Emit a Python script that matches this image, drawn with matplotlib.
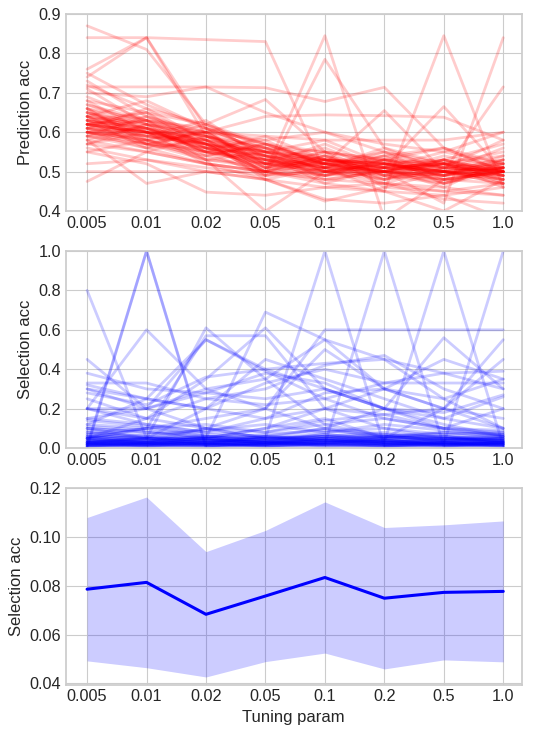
import numpy as np
import matplotlib
matplotlib.use('Agg')
import matplotlib.pyplot as plt

# tuning parameter categories
tuning_labels = ['0.005', '0.01', '0.02', '0.05', '0.1', '0.2', '0.5', '1.0']

# prediction accuracy, one row per run
pred_acc = [
    [0.87, 0.81, 0.62, 0.56, 0.53, 0.52, 0.50, 0.49],
    [0.84, 0.84, 0.835, 0.83, 0.50, 0.52, 0.49, 0.51],
    [0.74, 0.84, 0.59, 0.55, 0.52, 0.50, 0.47, 0.50],
    [0.76, 0.84, 0.61, 0.57, 0.53, 0.51, 0.52, 0.48],
    [0.62, 0.60, 0.57, 0.50, 0.845, 0.38, 0.48, 0.50],
    [0.63, 0.61, 0.55, 0.49, 0.785, 0.56, 0.52, 0.49],
    [0.60, 0.58, 0.55, 0.52, 0.51, 0.45, 0.845, 0.46],
    [0.61, 0.59, 0.56, 0.54, 0.52, 0.50, 0.42, 0.84],
    [0.64, 0.60, 0.58, 0.55, 0.53, 0.52, 0.50, 0.715],
    [0.715, 0.715, 0.715, 0.713, 0.678, 0.714, 0.56, 0.52],
    [0.70, 0.69, 0.715, 0.65, 0.60, 0.55, 0.52, 0.50],
    [0.66, 0.63, 0.60, 0.64, 0.644, 0.642, 0.638, 0.58],
    [0.68, 0.65, 0.62, 0.683, 0.55, 0.53, 0.50, 0.47],
    [0.65, 0.62, 0.59, 0.56, 0.52, 0.655, 0.50, 0.48],
    [0.62, 0.60, 0.57, 0.55, 0.53, 0.51, 0.665, 0.50],
    [0.475, 0.55, 0.52, 0.50, 0.48, 0.47, 0.45, 0.44],
    [0.58, 0.47, 0.50, 0.48, 0.46, 0.45, 0.44, 0.46],
    [0.55, 0.52, 0.448, 0.44, 0.46, 0.47, 0.43, 0.42],
    [0.60, 0.57, 0.53, 0.40, 0.50, 0.49, 0.48, 0.47],
    [0.57, 0.55, 0.52, 0.48, 0.425, 0.46, 0.45, 0.47],
    [0.59, 0.56, 0.52, 0.50, 0.47, 0.45, 0.40, 0.48],
    [0.50, 0.50, 0.50, 0.50, 0.49, 0.50, 0.49, 0.50],
    [0.52, 0.53, 0.50, 0.48, 0.43, 0.42, 0.44, 0.38],
    [0.62, 0.57, 0.60, 0.51, 0.55, 0.49, 0.53, 0.47],
    [0.66, 0.61, 0.55, 0.56, 0.50, 0.54, 0.47, 0.52],
    [0.59, 0.64, 0.57, 0.50, 0.54, 0.48, 0.52, 0.55],
    [0.64, 0.58, 0.62, 0.54, 0.49, 0.53, 0.56, 0.50],
    [0.61, 0.66, 0.58, 0.52, 0.57, 0.51, 0.46, 0.53],
    [0.68, 0.60, 0.56, 0.58, 0.51, 0.56, 0.50, 0.48],
    [0.57, 0.62, 0.53, 0.55, 0.48, 0.50, 0.54, 0.51],
    [0.63, 0.56, 0.61, 0.49, 0.53, 0.47, 0.51, 0.58],
    [0.60, 0.63, 0.54, 0.57, 0.52, 0.55, 0.48, 0.50],
    [0.65, 0.59, 0.63, 0.53, 0.56, 0.50, 0.53, 0.49],
    [0.71, 0.62, 0.57, 0.50, 0.53, 0.52, 0.49, 0.54],
    [0.58, 0.55, 0.59, 0.54, 0.47, 0.51, 0.55, 0.52],
    [0.62, 0.65, 0.56, 0.52, 0.55, 0.46, 0.50, 0.56],
    [0.66, 0.57, 0.60, 0.56, 0.50, 0.53, 0.47, 0.51],
    [0.61, 0.60, 0.52, 0.50, 0.54, 0.49, 0.52, 0.46],
    [0.73, 0.64, 0.59, 0.53, 0.51, 0.55, 0.51, 0.50],
    [0.55, 0.58, 0.54, 0.57, 0.52, 0.48, 0.53, 0.57],
    [0.64, 0.68, 0.61, 0.55, 0.58, 0.52, 0.49, 0.53],
    [0.60, 0.56, 0.58, 0.48, 0.51, 0.54, 0.56, 0.50],
    [0.63, 0.61, 0.55, 0.59, 0.53, 0.50, 0.52, 0.48],
    [0.62, 0.59, 0.57, 0.53, 0.50, 0.52, 0.50, 0.51],
    [0.67, 0.62, 0.60, 0.52, 0.52, 0.50, 0.48, 0.50],
    [0.60, 0.61, 0.56, 0.54, 0.51, 0.51, 0.52, 0.49],
    [0.63, 0.59, 0.58, 0.51, 0.54, 0.49, 0.50, 0.52],
    [0.58, 0.62, 0.55, 0.53, 0.49, 0.52, 0.53, 0.50],
    [0.65, 0.60, 0.57, 0.55, 0.52, 0.53, 0.49, 0.51],
    [0.61, 0.58, 0.60, 0.52, 0.50, 0.48, 0.51, 0.53],
    [0.69, 0.63, 0.56, 0.51, 0.53, 0.51, 0.50, 0.49],
    [0.62, 0.60, 0.59, 0.56, 0.55, 0.53, 0.51, 0.50],
    [0.64, 0.57, 0.54, 0.50, 0.52, 0.50, 0.49, 0.52],
    [0.59, 0.61, 0.58, 0.54, 0.51, 0.50, 0.52, 0.51],
    [0.62, 0.63, 0.61, 0.57, 0.52, 0.51, 0.48, 0.50],
    [0.66, 0.58, 0.55, 0.52, 0.49, 0.51, 0.50, 0.48],
    [0.60, 0.59, 0.57, 0.49, 0.51, 0.53, 0.51, 0.52],
    [0.63, 0.60, 0.56, 0.53, 0.50, 0.50, 0.53, 0.50],
    [0.57, 0.60, 0.53, 0.51, 0.52, 0.49, 0.47, 0.51],
    [0.64, 0.62, 0.59, 0.52, 0.53, 0.52, 0.50, 0.49],
    [0.75, 0.67, 0.61, 0.55, 0.50, 0.52, 0.51, 0.50],
    [0.61, 0.57, 0.55, 0.53, 0.51, 0.48, 0.50, 0.51],
    [0.62, 0.64, 0.60, 0.58, 0.60, 0.57, 0.55, 0.60],
    [0.56, 0.53, 0.51, 0.49, 0.50, 0.47, 0.46, 0.44],
    [0.65, 0.61, 0.58, 0.51, 0.49, 0.53, 0.52, 0.54],
    [0.62, 0.60, 0.60, 0.59, 0.58, 0.58, 0.58, 0.60],
    [0.67, 0.63, 0.57, 0.54, 0.53, 0.50, 0.48, 0.51],
    [0.60, 0.58, 0.53, 0.52, 0.50, 0.51, 0.50, 0.47],
    [0.63, 0.65, 0.58, 0.55, 0.54, 0.51, 0.52, 0.50],
    [0.59, 0.57, 0.56, 0.50, 0.48, 0.50, 0.49, 0.53],
    [0.64, 0.61, 0.57, 0.53, 0.52, 0.54, 0.51, 0.50],
    [0.61, 0.63, 0.59, 0.54, 0.51, 0.50, 0.53, 0.49],
    [0.72, 0.66, 0.62, 0.57, 0.55, 0.52, 0.50, 0.51],
]

# selection accuracy, one row per run
sel_acc = [
    [0.00, 1.00, 0.00, 0.02, 0.04, 0.03, 0.02, 0.01],
    [0.01, 1.00, 0.01, 0.03, 0.02, 0.01, 0.03, 0.02],
    [0.80, 0.05, 0.03, 0.02, 0.04, 0.02, 0.03, 0.02],
    [0.45, 0.20, 0.10, 0.05, 0.03, 0.04, 0.02, 0.03],
    [0.20, 0.60, 0.30, 0.20, 0.10, 0.05, 0.04, 0.03],
    [0.10, 0.05, 0.61, 0.35, 0.12, 0.06, 0.04, 0.05],
    [0.05, 0.10, 0.57, 0.57, 0.20, 0.10, 0.05, 0.04],
    [0.30, 0.20, 0.55, 0.39, 0.25, 0.15, 0.10, 0.06],
    [0.12, 0.25, 0.55, 0.40, 0.30, 0.20, 0.10, 0.08],
    [0.02, 0.03, 0.05, 0.69, 0.55, 0.30, 0.20, 0.10],
    [0.05, 0.15, 0.35, 0.61, 0.30, 0.20, 0.12, 0.06],
    [0.03, 0.05, 0.20, 0.45, 0.35, 0.25, 0.15, 0.10],
    [0.02, 0.01, 0.02, 0.05, 1.00, 0.01, 0.02, 0.03],
    [0.03, 0.02, 0.04, 0.03, 0.02, 1.00, 0.01, 0.02],
    [0.01, 0.02, 0.01, 0.02, 0.05, 0.03, 1.00, 0.01],
    [0.02, 0.03, 0.02, 0.01, 0.02, 0.03, 0.02, 1.00],
    [0.05, 0.10, 0.15, 0.20, 0.60, 0.60, 0.60, 0.60],
    [0.03, 0.05, 0.10, 0.05, 0.10, 0.20, 0.56, 0.30],
    [0.10, 0.08, 0.05, 0.10, 0.20, 0.30, 0.20, 0.55],
    [0.20, 0.15, 0.25, 0.30, 0.42, 0.47, 0.30, 0.20],
    [0.15, 0.20, 0.30, 0.35, 0.55, 0.45, 0.25, 0.10],
    [0.05, 0.03, 0.10, 0.20, 0.50, 0.30, 0.45, 0.35],
    [0.08, 0.05, 0.05, 0.10, 0.15, 0.05, 0.20, 0.45],
    [0.33, 0.33, 0.25, 0.22, 0.25, 0.33, 0.33, 0.33],
    [0.30, 0.25, 0.20, 0.33, 0.40, 0.33, 0.38, 0.39],
    [0.38, 0.30, 0.28, 0.25, 0.30, 0.20, 0.15, 0.26],
    [0.32, 0.25, 0.20, 0.15, 0.28, 0.30, 0.25, 0.35],
    [0.28, 0.22, 0.36, 0.40, 0.43, 0.45, 0.38, 0.30],
    [0.20, 0.20, 0.28, 0.38, 0.33, 0.20, 0.18, 0.27],
    [0.25, 0.15, 0.10, 0.08, 0.12, 0.15, 0.10, 0.20],
    [0.20, 0.12, 0.08, 0.15, 0.20, 0.17, 0.20, 0.15],
    [0.05, 0.03, 0.02, 0.03, 0.04, 0.02, 0.03, 0.02],
    [0.03, 0.02, 0.01, 0.02, 0.03, 0.01, 0.02, 0.01],
    [0.02, 0.04, 0.03, 0.05, 0.06, 0.04, 0.05, 0.03],
    [0.06, 0.05, 0.04, 0.03, 0.05, 0.06, 0.04, 0.05],
    [0.01, 0.01, 0.02, 0.01, 0.02, 0.01, 0.01, 0.02],
    [0.04, 0.06, 0.05, 0.04, 0.07, 0.05, 0.06, 0.04],
    [0.08, 0.05, 0.03, 0.06, 0.05, 0.03, 0.04, 0.06],
    [0.10, 0.08, 0.06, 0.05, 0.04, 0.06, 0.07, 0.05],
    [0.02, 0.03, 0.05, 0.02, 0.03, 0.04, 0.03, 0.03],
    [0.12, 0.10, 0.07, 0.05, 0.06, 0.08, 0.05, 0.04],
    [0.03, 0.01, 0.02, 0.04, 0.02, 0.02, 0.01, 0.02],
    [0.07, 0.04, 0.06, 0.03, 0.06, 0.05, 0.08, 0.07],
    [0.15, 0.12, 0.08, 0.06, 0.10, 0.07, 0.05, 0.06],
    [0.01, 0.02, 0.01, 0.03, 0.01, 0.02, 0.02, 0.01],
    [0.04, 0.03, 0.02, 0.02, 0.04, 0.03, 0.02, 0.04],
    [0.05, 0.07, 0.09, 0.12, 0.08, 0.10, 0.07, 0.08],
    [0.02, 0.02, 0.03, 0.02, 0.03, 0.02, 0.04, 0.03],
    [0.09, 0.06, 0.04, 0.03, 0.05, 0.04, 0.03, 0.05],
    [0.03, 0.05, 0.04, 0.06, 0.03, 0.05, 0.06, 0.03],
    [0.06, 0.04, 0.02, 0.04, 0.06, 0.03, 0.05, 0.07],
    [0.11, 0.09, 0.05, 0.07, 0.09, 0.06, 0.08, 0.06],
    [0.02, 0.01, 0.03, 0.01, 0.02, 0.03, 0.01, 0.02],
    [0.04, 0.02, 0.03, 0.05, 0.04, 0.02, 0.03, 0.02],
    [0.07, 0.10, 0.12, 0.08, 0.14, 0.17, 0.10, 0.09],
    [0.01, 0.03, 0.02, 0.02, 0.01, 0.01, 0.02, 0.01],
    [0.03, 0.04, 0.06, 0.04, 0.03, 0.06, 0.04, 0.05],
    [0.05, 0.02, 0.04, 0.03, 0.07, 0.04, 0.02, 0.03],
    [0.02, 0.05, 0.02, 0.06, 0.04, 0.03, 0.05, 0.04],
    [0.14, 0.11, 0.06, 0.04, 0.08, 0.12, 0.09, 0.07],
    [0.01, 0.02, 0.02, 0.01, 0.03, 0.02, 0.01, 0.03],
    [0.06, 0.03, 0.05, 0.02, 0.05, 0.07, 0.03, 0.04],
    [0.03, 0.02, 0.04, 0.03, 0.02, 0.05, 0.06, 0.02],
    [0.02, 0.01, 0.01, 0.02, 0.01, 0.02, 0.03, 0.01],
    [0.04, 0.03, 0.05, 0.03, 0.02, 0.04, 0.02, 0.03],
    [0.01, 0.02, 0.03, 0.01, 0.02, 0.01, 0.02, 0.02],
]

# mean selection accuracy and its spread (band = mean +/- sd)
sel_mean = [0.0786, 0.0814, 0.0683, 0.0758, 0.0834, 0.0749, 0.0773, 0.0777]
sel_sd = [0.0294, 0.0350, 0.0257, 0.0269, 0.0310, 0.0290, 0.0277, 0.0289]

plt.style.use('seaborn-v0_8-whitegrid')
plt.rcParams['font.family'] = ['Liberation Sans', 'DejaVu Sans']

x = np.arange(len(tuning_labels))
fig = plt.figure(figsize=(5.51, 7.34), dpi=100)
ax1 = fig.add_axes([0.1192, 0.7125, 0.8276, 0.2684])
ax2 = fig.add_axes([0.1192, 0.3896, 0.8276, 0.2684])
ax3 = fig.add_axes([0.1192, 0.0674, 0.8276, 0.2684])

for row in pred_acc:
    ax1.plot(x, row, color='r', alpha=0.2, lw=2)
ax1.set_ylim(0.4, 0.9)
ax1.set_ylabel('Prediction acc', fontsize=12)

for row in sel_acc:
    ax2.plot(x, row, color='b', alpha=0.2, lw=2)
ax2.set_ylim(0.0, 1.0)
ax2.set_ylabel('Selection acc', fontsize=12)

m = np.array(sel_mean)
s = np.array(sel_sd)
ax3.fill_between(x, m - s, m + s, color='b', alpha=0.2, lw=0)
ax3.plot(x, m, color='b', lw=2.2)
ax3.set_ylim(0.0395, 0.1203)
ax3.set_yticks([0.04, 0.06, 0.08, 0.10, 0.12])
ax3.set_ylabel('Selection acc', fontsize=12)
ax3.set_xlabel('Tuning param', fontsize=12)

for ax in (ax1, ax2, ax3):
    ax.set_xlim(-0.36, 7.31)
    ax.set_xticks(x)
    ax.set_xticklabels(tuning_labels)
    ax.tick_params(labelsize=11.7)
    for sp in ax.spines.values():
        sp.set_color('0.8')
        sp.set_linewidth(1.25)

fig.savefig('out.png', dpi=100)
